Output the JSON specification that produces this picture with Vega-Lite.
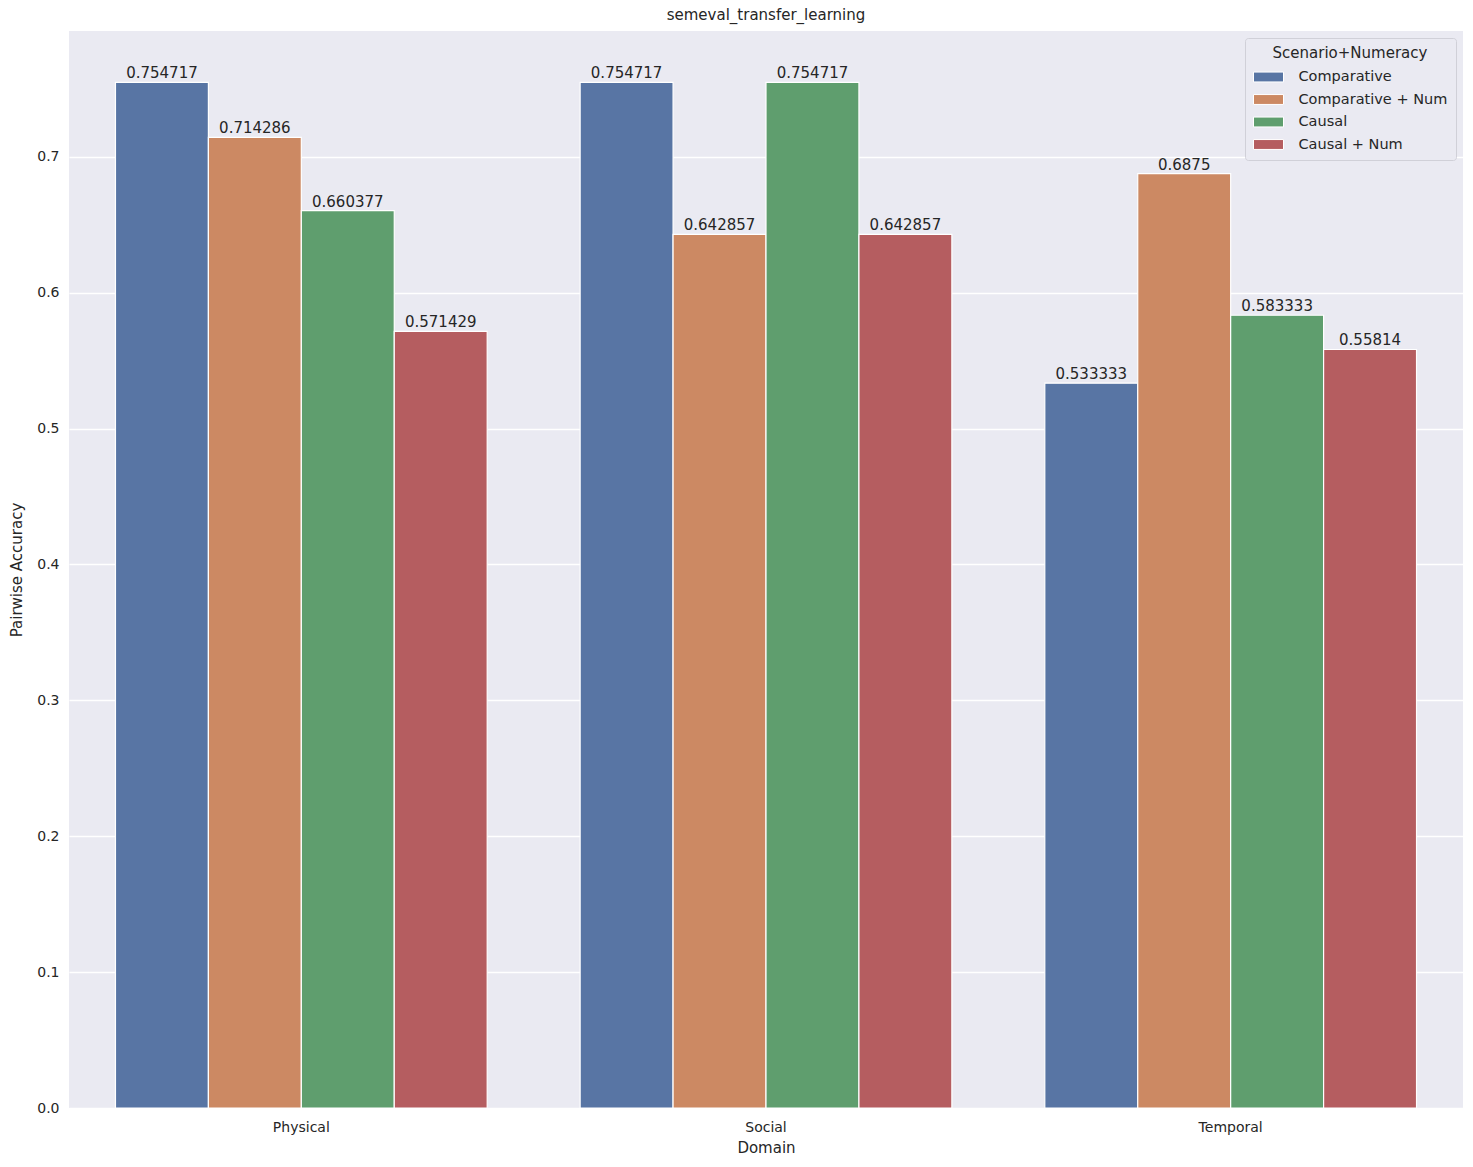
{
  "$schema": "https://vega.github.io/schema/vega-lite/v6.json",
  "autosize": {"type": "none"},
  "padding": {"left": 69, "top": 31, "right": 10, "bottom": 59},
  "width": 1394,
  "height": 1077,
  "background": "white",
  "title": {"text": "semeval_transfer_learning", "fontSize": 15, "fontWeight": "normal", "font": "DejaVu Sans", "color": "#262626", "offset": 8},
  "config": {
    "view": {"fill": "#eaeaf2", "stroke": null},
    "font": "DejaVu Sans",
    "axis": {"labelFont": "DejaVu Sans", "titleFont": "DejaVu Sans", "labelFontSize": 14, "titleFontSize": 15, "titleFontWeight": "normal", "labelColor": "#262626", "titleColor": "#262626", "domain": false, "ticks": false}
  },
  "data": {
    "values": [
      {"Domain": "Physical", "Scenario": "Comparative", "acc": 0.754717},
      {"Domain": "Physical", "Scenario": "Comparative + Num", "acc": 0.714286},
      {"Domain": "Physical", "Scenario": "Causal", "acc": 0.660377},
      {"Domain": "Physical", "Scenario": "Causal + Num", "acc": 0.571429},
      {"Domain": "Social", "Scenario": "Comparative", "acc": 0.754717},
      {"Domain": "Social", "Scenario": "Comparative + Num", "acc": 0.642857},
      {"Domain": "Social", "Scenario": "Causal", "acc": 0.754717},
      {"Domain": "Social", "Scenario": "Causal + Num", "acc": 0.642857},
      {"Domain": "Temporal", "Scenario": "Comparative", "acc": 0.533333},
      {"Domain": "Temporal", "Scenario": "Comparative + Num", "acc": 0.6875},
      {"Domain": "Temporal", "Scenario": "Causal", "acc": 0.583333},
      {"Domain": "Temporal", "Scenario": "Causal + Num", "acc": 0.55814}
    ]
  },
  "encoding": {
    "x": {
      "field": "Domain", "type": "nominal", "title": "Domain",
      "scale": {"paddingInner": 0.2, "paddingOuter": 0.1},
      "axis": {"labelAngle": 0, "labelPadding": 12, "titlePadding": 6, "grid": false}
    },
    "xOffset": {
      "field": "Scenario", "type": "nominal",
      "sort": ["Comparative", "Comparative + Num", "Causal", "Causal + Num"],
      "scale": {"paddingInner": 0, "paddingOuter": 0}
    },
    "y": {
      "field": "acc", "type": "quantitative", "title": "Pairwise Accuracy",
      "scale": {"domain": [0, 0.7925], "nice": false},
      "axis": {"values": [0, 0.1, 0.2, 0.3, 0.4, 0.5, 0.6, 0.7], "format": ".1f", "gridColor": "white", "gridWidth": 1.3, "labelPadding": 10, "titlePadding": 12}
    }
  },
  "layer": [
    {
      "mark": {"type": "bar", "stroke": "white", "strokeWidth": 1.2},
      "encoding": {
        "color": {
          "field": "Scenario", "type": "nominal",
          "sort": ["Comparative", "Comparative + Num", "Causal", "Causal + Num"],
          "scale": {"domain": ["Comparative", "Comparative + Num", "Causal", "Causal + Num"], "range": ["#5875a4", "#cc8963", "#5f9e6e", "#b55d60"]},
          "legend": {
            "title": "Scenario+Numeracy", "orient": "top-right", "offset": 7,
            "titleFontSize": 15, "titleFontWeight": "normal", "titleColor": "#262626", "titleAnchor": "middle", "titlePadding": 8,
            "labelFontSize": 14.5, "labelColor": "#262626", "labelOffset": 22,
            "symbolType": "M-2,-0.66H2V0.66H-2Z", "symbolSize": 225, "symbolOffset": 7.5, "symbolStrokeWidth": 1, "symbolStrokeColor": "white",
            "fillColor": "#eaeaf2", "strokeColor": "#d0d0d8", "padding": 8, "cornerRadius": 3, "rowPadding": 7.5
          }
        }
      }
    },
    {
      "mark": {"type": "text", "baseline": "bottom", "dy": -1, "fontSize": 15, "color": "#262626"},
      "encoding": {
        "text": {"field": "acc", "type": "nominal"}
      }
    }
  ]
}
